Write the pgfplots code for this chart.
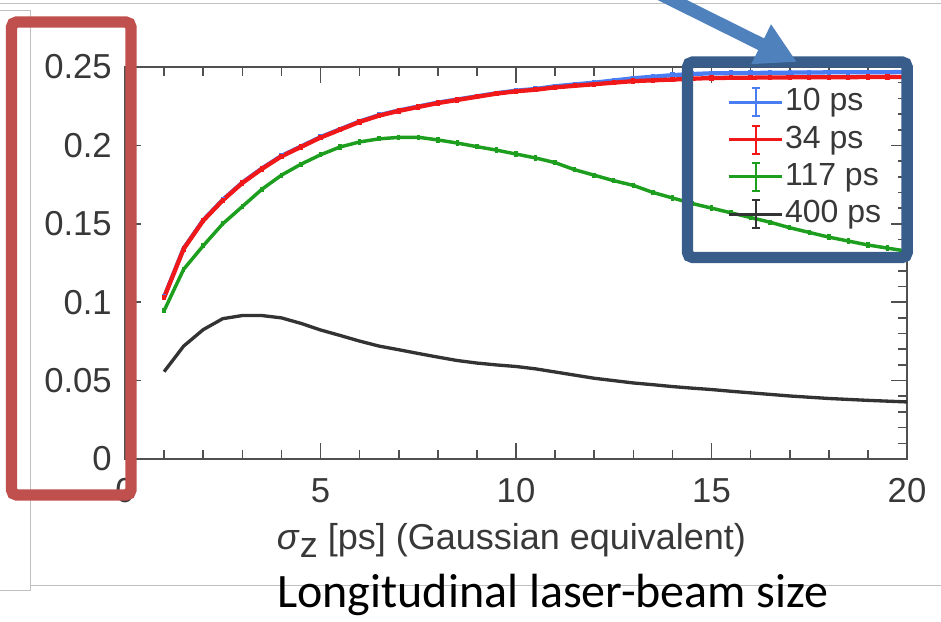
\documentclass[border=0pt]{standalone}
\usepackage{pgfplots}
\usepackage{pgfplotstable}
\pgfplotsset{compat=1.18}
\usepackage{fontspec}
\setmainfont{Liberation Sans}
\newfontfamily\calibri{Carlito}
\usetikzlibrary{arrows.meta}

\definecolor{cblue}{HTML}{4A7DF2}
\definecolor{cred}{HTML}{F01818}
\definecolor{cgreen}{HTML}{1E9E1E}
\definecolor{cblack}{HTML}{333333}
\definecolor{axgray}{HTML}{505050}
\definecolor{txtgray}{HTML}{383838}
\definecolor{framegray}{HTML}{C0C0C0}
\definecolor{boxred}{HTML}{C0504D}
\definecolor{boxblue}{HTML}{385D8A}
\definecolor{arrowblue}{HTML}{4F81BD}

% sigma_z scan, values
\pgfplotstableread{
x     b10     r34     g117    k400
1.0   0.1033  0.1030  0.0946  0.0557
1.5   0.1343  0.1340  0.1210  0.0720
2.0   0.1523  0.1520  0.1360  0.0825
2.5   0.1653  0.1650  0.1500  0.0895
3.0   0.1763  0.1760  0.1610  0.0915
3.5   0.1853  0.1850  0.1720  0.0915
4.0   0.1933  0.1930  0.1810  0.0900
4.5   0.1993  0.1990  0.1880  0.0865
5.0   0.2053  0.2050  0.1940  0.0823
5.5   0.2103  0.2100  0.1990  0.0788
6.0   0.2153  0.2150  0.2022  0.0752
6.5   0.2193  0.2190  0.2042  0.0720
7.0   0.2223  0.2220  0.2051  0.0697
7.5   0.2248  0.2245  0.2052  0.0673
8.0   0.2273  0.2270  0.2035  0.0650
8.5   0.2293  0.2290  0.2015  0.0628
9.0   0.2313  0.2310  0.1992  0.0612
9.5   0.2333  0.2330  0.1970  0.0600
10.0  0.2349  0.2345  0.1945  0.0590
10.5  0.2360  0.2355  0.1920  0.0575
11.0  0.2377  0.2370  0.1890  0.0555
11.5  0.2389  0.2380  0.1845  0.0535
12.0  0.2400  0.2390  0.1810  0.0515
12.5  0.2414  0.2400  0.1775  0.0500
13.0  0.2428  0.2410  0.1745  0.0485
13.5  0.2438  0.2415  0.1700  0.0474
14.0  0.2448  0.2420  0.1665  0.0462
14.5  0.2455  0.2425  0.1630  0.0452
15.0  0.2460  0.2430  0.1600  0.0443
15.5  0.2461  0.2431  0.1570  0.0432
16.0  0.2462  0.2432  0.1540  0.0422
16.5  0.2463  0.2433  0.1510  0.0412
17.0  0.2464  0.2434  0.1475  0.0402
17.5  0.2465  0.2434  0.1445  0.0394
18.0  0.2466  0.2435  0.1415  0.0386
18.5  0.2466  0.2435  0.1390  0.0380
19.0  0.2467  0.2436  0.1365  0.0374
19.5  0.2467  0.2436  0.1345  0.0369
20.0  0.2468  0.2436  0.1325  0.0364
}\scan

\begin{document}
\begin{tikzpicture}
% page = 941 x 621 px, 1px = 0.75pt, origin at top left
\path[use as bounding box] (0pt,0pt) rectangle (705.75pt,-465.75pt);

\begin{axis}[
  at={(125*0.75pt,-459*0.75pt)}, anchor=south west,
  scale only axis, width=586.5pt, height=294pt,
  xmin=0, xmax=20, ymin=0, ymax=0.25,
  xtick={0,5,10,15,20}, xticklabels={0,5,10,15,20},
  ytick={0,0.05,0.1,0.15,0.2,0.25},
  yticklabels={0,0.05,0.1,0.15,0.2,0.25},
  minor x tick num=4, minor y tick num=4,
  tick align=inside,
  major tick length=12pt, minor tick length=6.5pt,
  axis line style={draw=axgray, line width=1.5pt},
  tick style={draw=axgray, line width=1.2pt},
  tick label style={font=\fontsize{26}{30}\selectfont, text=txtgray, inner sep=0pt},
  yticklabel style={xshift=-9.75pt},
  xticklabel style={yshift=-14.25pt},
  xlabel={\textit{σ}\raisebox{-0.45ex}{z} [ps] (Gaussian equivalent)},
  x label style={at={(axis description cs:0.5,0)}, anchor=base,
    yshift=-67.5pt, xshift=-3.4pt,
    font=\fontsize{27}{32}\selectfont, text=txtgray},
  legend style={at={(0.765,0.96)}, anchor=north west, draw=none, fill=none,
    font=\fontsize{24}{28}\selectfont, text=txtgray,
    nodes={inner sep=1pt, text height=18pt, text depth=5pt}, row sep=3pt},
  legend cell align=left,
  legend image code/.code={
    \draw[#1, line width=2.2pt] (0pt,0pt) -- (40pt,0pt);
    \draw[#1, line width=1.5pt] (20pt,-10.5pt) -- (20pt,10.5pt);
    \draw[#1, line width=1.5pt] (17pt,-10.5pt) -- (23pt,-10.5pt)
                                (17pt,10.5pt) -- (23pt,10.5pt);
  },
]
\addplot[cblue, line width=3.2pt, mark=|, mark size=2pt] table[x=x, y=b10] {\scan};
\addlegendentry{10 ps}
\addplot[cred, line width=3.2pt, mark=|, mark size=2pt] table[x=x, y=r34] {\scan};
\addlegendentry{34 ps}
\addplot[cgreen, line width=2.6pt, mark=|, mark size=2pt] table[x=x, y=g117] {\scan};
\addlegendentry{117 ps}
\addplot[cblack, line width=2.5pt] table[x=x, y=k400] {\scan};
\addlegendentry{400 ps}
\end{axis}

\begin{scope}[x=0.75pt,y=-0.75pt]
  \draw[framegray, line width=0.75pt] (0,3.3) -- (941,3.3);
  \draw[framegray, line width=0.75pt] (0,10.7) -- (30.7,10.7) -- (30.7,590) -- (0,590);
  \draw[framegray, line width=0.75pt] (30.7,585) -- (941,585);
  \node[anchor=base, font=\calibri\fontsize{36}{40}\selectfont, text=black, inner sep=0pt]
    at (553,607) {Longitudinal laser-beam size};
  \draw[boxred, line width=8.6pt, rounded corners=4pt] (11.5,22) rectangle (131,495);
  \draw[boxblue, line width=8.6pt, rounded corners=4pt] (687.5,62) rectangle (907.2,257.5);
  \draw[arrowblue, line width=9.75pt, -{Triangle[length=30pt,width=31pt]}] (652,-10) -- (797,62);
\end{scope}
\end{tikzpicture}
\end{document}
